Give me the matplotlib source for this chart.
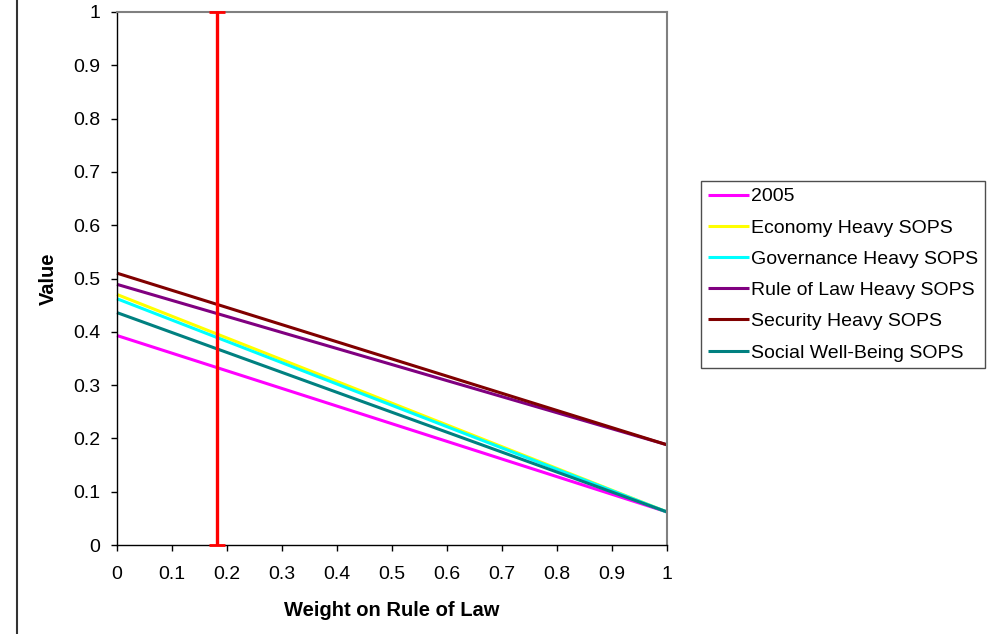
import numpy as np
import matplotlib.pyplot as plt
from matplotlib.lines import Line2D

plt.rcParams['font.family'] = ['Liberation Sans', 'DejaVu Sans']

# weight on rule of law (endpoints of each linear series)
weights = [0.0, 1.0]

series_names = [
    "2005",
    "Economy Heavy SOPS",
    "Governance Heavy SOPS",
    "Rule of Law Heavy SOPS",
    "Security Heavy SOPS",
    "Social Well-Being SOPS",
]
val_2005 = [0.393, 0.062]
val_economy = [0.470, 0.062]
val_governance = [0.462, 0.062]
val_rule_of_law = [0.489, 0.188]
val_security = [0.510, 0.188]
val_social = [0.436, 0.062]
series_colors = ["#FF00FF", "#FFFF00", "#00FFFF", "#800080", "#800000", "#008080"]

# current weight marker
marker_x = 0.182

ticks = [0, 0.1, 0.2, 0.3, 0.4, 0.5, 0.6, 0.7, 0.8, 0.9, 1]
tick_labels = ["0", "0.1", "0.2", "0.3", "0.4", "0.5", "0.6", "0.7", "0.8", "0.9", "1"]

fig = plt.figure(figsize=(9.88, 6.34), dpi=100)
ax = fig.add_axes([117 / 988, 1 - 545 / 634, 550 / 988, 533 / 634])

all_vals = [val_2005, val_economy, val_governance, val_rule_of_law, val_security, val_social]
for name, vals, col in zip(series_names, all_vals, series_colors):
    ax.plot(weights, vals, color=col, lw=2.2, label=name, solid_capstyle='butt', clip_on=False)

ax.errorbar([marker_x], [0.5], yerr=[0.5], fmt='none', ecolor='#FF0000',
            elinewidth=2.4, capsize=6, capthick=2.0, clip_on=False, zorder=5)

ax.set_xlim(0, 1)
ax.set_ylim(0, 1)
ax.set_xticks(ticks)
ax.set_xticklabels(tick_labels)
ax.set_yticks(ticks)
ax.set_yticklabels(tick_labels)
ax.tick_params(direction='out', length=4, width=1, labelsize=14)
ax.tick_params(axis='x', pad=11)
ax.tick_params(axis='y', pad=8)

for s in ['left', 'bottom']:
    ax.spines[s].set_color('black')
    ax.spines[s].set_linewidth(1)
for s in ['top', 'right']:
    ax.spines[s].set_color('#808080')
    ax.spines[s].set_linewidth(1.5)

ax.set_xlabel("Weight on Rule of Law", fontsize=14.5, fontweight='bold', labelpad=13)
ax.set_ylabel("Value", fontsize=14.5, fontweight='bold', labelpad=11)

leg = fig.legend(loc='upper left', bbox_to_anchor=(701 / 988, 1 - 181 / 634),
                 fontsize=14, frameon=True, fancybox=False, handlelength=2.1,
                 handletextpad=0.1, labelspacing=0.7, borderpad=0.35,
                 borderaxespad=0)
leg.get_frame().set_edgecolor('#222222')
leg.get_frame().set_linewidth(1)

# border of the chart area on the left
fig.add_artist(Line2D([16.5 / 988, 16.5 / 988], [0, 1], transform=fig.transFigure,
                      color='#333333', lw=1.5))

fig.savefig("out.png", dpi=100)
